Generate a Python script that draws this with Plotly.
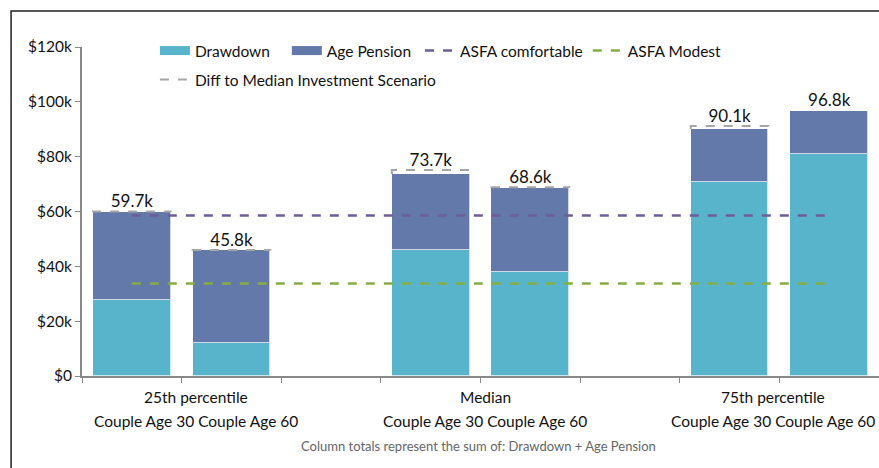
import plotly.graph_objects as go

groups = ["25th percentile", "Median", "75th percentile"]
subgroups = ["Couple Age 30", "Couple Age 60"]
drawdown = [27.7, 12.1, 46.0, 37.9, 70.6, 80.8]
age_pension = [32.0, 33.7, 27.7, 30.7, 19.5, 16.0]
diff_to_median = [0.3, 0.2, 1.4, 0.2, 1.1, 0.0]
asfa_comfortable = 58.5
asfa_modest = 33.7
y_ticks = [0, 20, 40, 60, 80, 100, 120]
y_tick_labels = ["$0", "$20k", "$40k", "$60k", "$80k", "$100k", "$120k"]
footnote = "Column totals represent the sum of: Drawdown + Age Pension"

FONT = "Lato"
C_DRAW = "#57B4CB"
C_AGE = "#6379AA"
C_COMF = "#6E5E98"
C_MOD = "#86AD45"
C_DIFF = "#A6A6A6"
NB = "\u00a0"

# positions: each group occupies 3 slots (2 bars + gap)
xs = [g * 3 + s for g in range(len(groups)) for s in range(len(subgroups))]
totals = [round(a + b, 1) for a, b in zip(drawdown, age_pension)]
bw = 0.78

fig = go.Figure()
fig.add_bar(x=xs, y=drawdown, name="Drawdown", marker_color=C_DRAW, width=bw,
            marker_line=dict(color="rgba(255,255,255,0.7)", width=1), showlegend=False)
fig.add_bar(x=xs, y=age_pension, name="Age Pension", marker_color=C_AGE, width=bw,
            marker_line=dict(color="rgba(255,255,255,0.7)", width=1), showlegend=False)
# legend proxies for bars (wide flat swatches)
fig.add_scatter(x=[None], y=[None], mode="lines", name="Drawdown" + NB * 3,
                line=dict(color=C_DRAW, width=9), legend="legend")
fig.add_scatter(x=[None], y=[None], mode="lines", name="Age Pension" + NB,
                line=dict(color=C_AGE, width=9), legend="legend")
fig.add_scatter(x=[xs[0], xs[-1]], y=[asfa_comfortable] * 2, mode="lines", name="ASFA comfortable",
                line=dict(color=C_COMF, width=2.5, dash="dash"), legend="legend")
fig.add_scatter(x=[xs[0], xs[-1]], y=[asfa_modest] * 2, mode="lines", name="ASFA Modest",
                line=dict(color=C_MOD, width=2.5, dash="dash"), legend="legend")

# dashed boxes for diff
bx, by = [], []
for x, t, d in zip(xs, totals, diff_to_median):
    if d <= 0:
        continue
    bx += [x - bw / 2, x - bw / 2, x + bw / 2, x + bw / 2, None]
    by += [t, t + d, t + d, t, None]
fig.add_scatter(x=bx, y=by, mode="lines", name="Diff to Median Investment Scenario",
                line=dict(color=C_DIFF, width=2, dash="dash"), legend="legend2", connectgaps=False)

# total labels
fig.add_scatter(x=xs, y=[t + d for t, d in zip(totals, diff_to_median)], mode="text",
                text=[f"{t:.1f}k" for t in totals], textposition="top center",
                textfont=dict(family=FONT, size=17, color="#111"), showlegend=False, hoverinfo="skip")

plot_l, plot_r, plot_t, plot_b = 82, 880, 47, 376
W, H = 879, 468
plot_w = plot_r - plot_l
plot_h = plot_b - plot_t

def px(v):
    return (v - plot_l) / plot_w

def py(v):
    return (plot_b - v) / plot_h

fig.update_layout(
    width=W, height=H,
    margin=dict(l=plot_l, r=0, t=plot_t, b=H - plot_b, autoexpand=False),
    barmode="stack", bargap=0,
    plot_bgcolor="white", paper_bgcolor="white",
    font=dict(family=FONT, size=15, color="#111"),
    showlegend=True,
    legend=dict(orientation="h", x=px(155), y=py(34), xanchor="left", yanchor="top",
                font=dict(family=FONT, size=15.5), bgcolor="rgba(0,0,0,0)",
                traceorder="normal", itemwidth=30),
    legend2=dict(orientation="h", x=px(155), y=py(63), xanchor="left", yanchor="top",
                 font=dict(family=FONT, size=15.5), bgcolor="rgba(0,0,0,0)"),
    xaxis=dict(range=[-0.5, 7.5], tickvals=[i - 0.5 for i in range(9)],
               ticktext=[""] * 9, ticks="outside", ticklen=5, tickcolor="#888",
               showline=True, linecolor="#888", linewidth=2, showgrid=False, zeroline=False,
               fixedrange=True),
    yaxis=dict(range=[0, 120], tickvals=y_ticks, ticktext=y_tick_labels,
               ticks="outside", ticklen=5, tickcolor="#888", showline=True,
               linecolor="#888", linewidth=2, showgrid=False, zeroline=False,
               tickfont=dict(family=FONT, size=15.5), fixedrange=True, automargin=False),
)

# category labels
group_centers_px = [196, 486, 774]
for g, cpx in zip(groups, group_centers_px):
    fig.add_annotation(x=px(cpx), y=py(397), xref="paper", yref="paper", text=g, showarrow=False,
                       font=dict(family=FONT, size=15.5, color="#111"),
                       xanchor="center", yanchor="middle")
    fig.add_annotation(x=px(cpx), y=py(421), xref="paper", yref="paper",
                       text=" ".join(subgroups), showarrow=False,
                       font=dict(family=FONT, size=15.5, color="#111"),
                       xanchor="center", yanchor="middle")
fig.add_annotation(x=px(479), y=py(446), xref="paper", yref="paper",
                   text=footnote, showarrow=False,
                   font=dict(family=FONT, size=13, color="#666"),
                   xanchor="center", yanchor="middle")

# outer frame (left and top edges visible)
fig.add_shape(type="rect", xref="paper", yref="paper",
              x0=px(11), x1=px(1100), y0=py(600), y1=py(11),
              line=dict(color="#222", width=1.5), layer="below")

fig.write_html("out.html", config={"displayModeBar": False},
               post_script="document.body.style.margin='0';document.body.style.overflow='hidden';")
